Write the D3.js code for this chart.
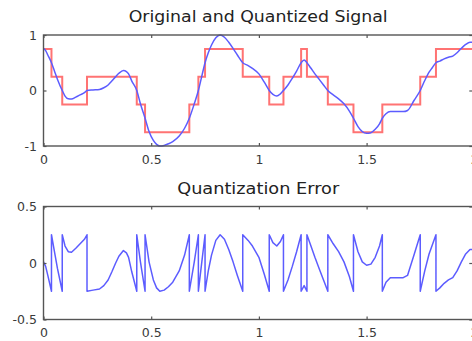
<!DOCTYPE html>
<html><head><meta charset="utf-8">
<script src="https://cdn.jsdelivr.net/npm/d3@7"></script>
<style>html,body{margin:0;padding:0;background:#fff;overflow:hidden}</style>
</head><body><svg id="c" width="472" height="341"></svg>
<script>
// ---- data ----
const signalTime = [0.000,0.010,0.020,0.037,0.050,0.065,0.087,0.100,0.115,0.130,0.150,0.170,0.190,0.202,
  0.230,0.260,0.280,0.300,0.317,0.335,0.350,0.371,0.385,0.395,0.410,0.433,0.450,0.4715,0.490,0.510,0.525,
  0.540,0.560,0.580,0.600,0.630,0.655,0.677,0.700,0.719,0.735,0.750,0.765,0.780,0.800,0.820,0.840,0.860,
  0.880,0.900,0.925,0.950,0.970,1.000,1.025,1.048,1.065,1.083,1.100,1.114,1.135,1.155,1.175,1.196,1.210,
  1.223,1.240,1.260,1.280,1.300,1.320,1.345,1.370,1.395,1.420,1.439,1.460,1.480,1.500,1.520,1.540,1.560,
  1.573,1.590,1.610,1.640,1.670,1.690,1.720,1.749,1.770,1.790,1.805,1.822,1.840,1.860,1.880,1.900,1.920,
  1.940,1.960,1.980,2.000];
const signalValue = [0.76,0.72,0.64,0.50,0.36,0.20,0.00,-0.10,-0.15,-0.155,-0.12,-0.08,-0.04,0.00,
  0.01,0.02,0.05,0.10,0.17,0.25,0.31,0.36,0.34,0.30,0.17,0.00,-0.24,-0.50,-0.74,-0.90,-0.97,
  -1.00,-0.99,-0.96,-0.92,-0.82,-0.68,-0.50,-0.24,0.00,0.26,0.50,0.68,0.82,0.95,1.00,0.96,0.87,
  0.76,0.64,0.50,0.45,0.40,0.30,0.15,0.00,-0.07,-0.10,-0.06,0.00,0.10,0.22,0.35,0.50,0.55,
  0.50,0.41,0.30,0.20,0.10,0.00,-0.08,-0.15,-0.24,-0.37,-0.50,-0.65,-0.74,-0.77,-0.76,-0.70,-0.60,
  -0.50,-0.42,-0.38,-0.38,-0.38,-0.36,-0.18,0.00,0.18,0.33,0.41,0.50,0.53,0.57,0.60,0.62,0.68,
  0.76,0.83,0.87,0.87];
const stepTime = [0,0.037,0.087,0.202,0.433,0.4715,0.677,0.719,0.750,0.925,1.048,1.114,1.196,1.223,1.320,1.439,1.573,1.749,1.822];
const stepLevel = [0.75,0.25,-0.25,0.25,-0.25,-0.75,-0.25,0.25,0.75,0.25,-0.25,0.25,0.75,0.25,-0.25,-0.75,-0.25,0.25,0.75];
const xTickValues = [0,0.5,1,1.5,2];
const xTickLabels = ["0","0.5","1","1.5","2"];
const topYTicks = [-1,0,1];
const topYLabels = ["-1","0","1"];
const botYTicks = [-0.5,0,0.5];
const botYLabels = ["-0.5","0","0.5"];
const titles = ["Original and Quantized Signal","Quantization Error"];

// ---- layout ----
const svg = d3.select("#c");
const L = 43.5, R = 474.3;
const panels = [
  {top: 35, bottom: 146, domain: [-1, 1], ticks: topYTicks, labels: topYLabels, title: titles[0], titleY: 22, titleW: 259},
  {top: 206.5, bottom: 319.5, domain: [-0.5, 0.5], ticks: botYTicks, labels: botYLabels, title: titles[1], titleY: 194, titleW: 162}
];
const x = d3.scaleLinear().domain([0, 2]).range([L, R]);
const font = "DejaVu Sans, Verdana, sans-serif";

// derived series
const signalPts = signalTime.map((t, i) => [t, signalValue[i]]);
const stepPts = stepTime.map((t, i) => [t, stepLevel[i]]).concat([[2, stepLevel[stepLevel.length - 1]]]);
const errPts = [];
signalTime.forEach((t, i) => {
  let k = 0;
  for (let j = 0; j < stepTime.length; j++) if (stepTime[j] <= t) k = j;
  const s = signalValue[i];
  if (k > 0 && stepTime[k] === t) errPts.push([t, s - stepLevel[k - 1]]);
  errPts.push([t, s - stepLevel[k]]);
});

panels.forEach((p, pi) => {
  const y = d3.scaleLinear().domain(p.domain).range([p.bottom, p.top]);
  const g = svg.append("g");

  // data lines
  if (pi === 0) {
    g.append("path").datum(stepPts)
      .attr("fill", "none").attr("stroke", "#ff7373").attr("stroke-width", 2)
      .attr("d", d3.line().x(d => x(d[0])).y(d => y(d[1])).curve(d3.curveStepAfter));
    g.append("path").datum(signalPts)
      .attr("fill", "none").attr("stroke", "#5c5cff").attr("stroke-width", 1.5)
      .attr("d", d3.line().x(d => x(d[0])).y(d => y(d[1])).curve(d3.curveMonotoneX));
  } else {
    g.append("path").datum(errPts)
      .attr("fill", "none").attr("stroke", "#5c5cff").attr("stroke-width", 1.5)
      .attr("stroke-linejoin", "round")
      .attr("d", d3.line().x(d => x(d[0])).y(d => y(d[1])));
  }

  // box
  g.append("rect").attr("x", L).attr("y", p.top).attr("width", R - L).attr("height", p.bottom - p.top)
    .attr("fill", "none").attr("stroke", "#555").attr("stroke-width", 1.4);

  const styleAxis = sel => {
    sel.select(".domain").remove();
    sel.selectAll(".tick line").attr("stroke", "#555").attr("stroke-width", 1.2);
    sel.selectAll("text").attr("fill", "#3a3a3a").style("font-family", font).style("font-size", "12.5px");
  };

  g.append("g").attr("transform", `translate(0,${p.bottom})`)
    .call(d3.axisBottom(x).tickValues(xTickValues).tickFormat((d, i) => xTickLabels[i]).tickSize(-3).tickPadding(9))
    .call(styleAxis);
  g.append("g").attr("transform", `translate(0,${p.top})`)
    .call(d3.axisTop(x).tickValues(xTickValues).tickFormat("").tickSize(-3))
    .call(styleAxis);
  g.append("g").attr("transform", `translate(${L},0)`)
    .call(d3.axisLeft(y).tickValues(p.ticks).tickFormat((d, i) => p.labels[i]).tickSize(-3).tickPadding(6.5))
    .call(styleAxis);
  g.append("g").attr("transform", `translate(${R},0)`)
    .call(d3.axisRight(y).tickValues(p.ticks).tickFormat("").tickSize(-5))
    .call(styleAxis);

  // title
  svg.append("text").attr("x", (L + R) / 2 + 0.5 - ((L + R) / 2 - 257.7)).attr("y", p.titleY)
    .attr("text-anchor", "middle").attr("fill", "#222")
    .attr("textLength", p.titleW).attr("lengthAdjust", "spacingAndGlyphs")
    .style("font-family", font).style("font-size", "15px")
    .text(p.title);
});
</script>
</body></html>
